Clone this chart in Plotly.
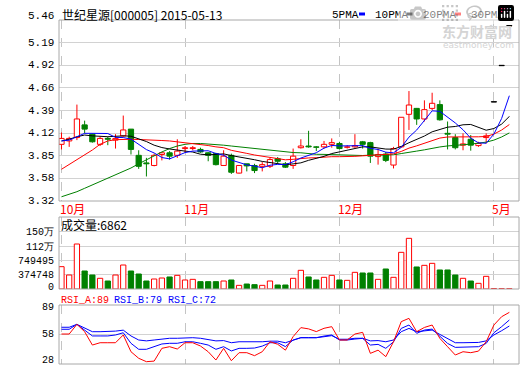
import plotly.graph_objects as go

# ---------------- data ----------------
days = list(range(59))
month_pos = [0, 16, 36, 56]
month_names = ["10月", "11月", "12月", "5月"]

open_p = [3.99, 4.03, 4.07, 4.22, 4.11, 3.99, 4.06, 4.04, 4.09, 4.17,
          3.86, 3.77, 3.74, 3.87, 3.89, 3.86, 3.94, 3.94, 3.93, 3.89,
          3.88, 3.74, 3.86, 3.65, 3.76, 3.74, 3.73, 3.73, 3.82, 3.76,
          3.74, 3.95, 3.97, 3.96, 3.96, 3.99, 4.00, 3.955, 3.96, 4.02,
          4.01, 3.845, 3.875, 3.745, 3.96, 4.345, 4.415, 4.29, 4.415, 4.46,
          4.12, 4.07, 3.98, 4.05, 3.975, 4.07, 4.49, 4.92, 5.39]
high_p = [4.13, 4.08, 4.46, 4.27, 4.12, 4.08, 4.08, 4.11, 4.33, 4.17,
          3.92, 3.83, 3.88, 3.90, 3.91, 4.05, 3.97, 3.97, 3.95, 3.90,
          3.89, 3.92, 3.88, 3.745, 3.76, 3.76, 3.78, 3.83, 3.84, 3.78,
          3.94, 4.05, 4.15, 3.97, 4.03, 4.06, 4.02, 3.98, 4.11, 4.03,
          4.02, 3.94, 3.90, 3.96, 4.31, 4.62, 4.42, 4.51, 4.60, 4.51,
          4.26, 4.11, 4.12, 4.10, 4.02, 4.12, 4.49, 4.92, 5.39]
low_p = [3.93, 3.96, 4.04, 4.12, 4.01, 3.97, 3.98, 3.94, 4.08, 3.87,
         3.70, 3.61, 3.73, 3.80, 3.81, 3.83, 3.89, 3.92, 3.89, 3.79,
         3.74, 3.74, 3.64, 3.645, 3.67, 3.65, 3.67, 3.71, 3.76, 3.71,
         3.70, 3.94, 3.95, 3.91, 3.94, 3.95, 3.93, 3.94, 3.95, 3.94,
         3.77, 3.75, 3.78, 3.705, 3.95, 4.16, 4.22, 4.26, 4.395, 4.27,
         3.93, 3.93, 3.92, 3.915, 3.96, 4.00, 4.49, 4.92, 5.39]
close_p = [4.06, 4.06, 4.29, 4.17, 4.02, 4.06, 4.05, 4.06, 4.16, 3.93,
           3.73, 3.76, 3.86, 3.89, 3.85, 3.91, 3.95, 3.95, 3.90, 3.86,
           3.75, 3.85, 3.66, 3.74, 3.735, 3.68, 3.75, 3.81, 3.79, 3.72,
           3.85, 3.97, 3.96, 3.955, 3.99, 4.01, 3.94, 3.96, 3.975, 3.99,
           3.85, 3.87, 3.80, 3.94, 4.31, 4.455, 4.29, 4.40, 4.475, 4.28,
           4.11, 3.95, 3.995, 3.98, 4.00, 4.09, 4.49, 4.92, 5.39]

ma5 = [4.03, 4.04, 4.08, 4.12, 4.12, 4.12, 4.118, 4.072, 4.07, 4.052,
       3.986, 3.928, 3.888, 3.834, 3.818, 3.854, 3.892, 3.91, 3.912, 3.914,
       3.882, 3.862, 3.804, 3.772, 3.747, 3.733, 3.713, 3.743, 3.753, 3.75,
       3.784, 3.828, 3.858, 3.891, 3.945, 3.977, 3.971, 3.971, 3.975, 3.975,
       3.943, 3.929, 3.897, 3.89, 3.954, 4.075, 4.159, 4.279, 4.386, 4.38,
       4.311, 4.243, 4.162, 4.063, 4.007, 4.003, 4.111, 4.296, 4.565]
ma10 = [4.03, 4.05, 4.08, 4.10, 4.09, 4.085, 4.08, 4.085, 4.09, 4.086,
        4.053, 4.023, 3.98, 3.952, 3.935, 3.92, 3.91, 3.899, 3.873, 3.866,
        3.868, 3.877, 3.857, 3.842, 3.83, 3.808, 3.788, 3.774, 3.763, 3.749,
        3.759, 3.771, 3.801, 3.822, 3.848, 3.881, 3.90, 3.915, 3.933, 3.96,
        3.96, 3.95, 3.934, 3.933, 3.965, 4.009, 4.044, 4.088, 4.138, 4.167,
        4.193, 4.201, 4.221, 4.225, 4.194, 4.157, 4.177, 4.229, 4.32]
ma20 = [3.695, 3.75, 3.805, 3.864, 3.923, 3.99, 4.03, 4.045, 4.05, 4.05,
        4.047, 4.045, 4.04, 4.035, 4.03, 4.02, 4.01, 4.003, 3.99, 3.976,
        3.96, 3.95, 3.919, 3.897, 3.883, 3.864, 3.849, 3.836, 3.818, 3.807,
        3.813, 3.824, 3.829, 3.832, 3.839, 3.844, 3.844, 3.844, 3.848, 3.854,
        3.859, 3.86, 3.867, 3.877, 3.906, 3.945, 3.972, 4.001, 4.036, 4.064,
        4.077, 4.076, 4.077, 4.079, 4.079, 4.083, 4.111, 4.159, 4.224]
ma30 = [3.37, 3.40, 3.43, 3.47, 3.51, 3.55, 3.59, 3.63, 3.67, 3.71,
        3.76, 3.81, 3.86, 3.90, 3.94, 3.97, 3.99, 4.0, 4.0, 3.995,
        3.99, 3.98, 3.97, 3.96, 3.945, 3.935, 3.925, 3.918, 3.91, 3.90,
        3.893, 3.89, 3.879, 3.872, 3.871, 3.869, 3.866, 3.862, 3.856, 3.858,
        3.862, 3.866, 3.864, 3.866, 3.881, 3.899, 3.91, 3.925, 3.945, 3.959,
        3.971, 3.974, 3.985, 3.993, 4.002, 4.016, 4.04, 4.077, 4.125]

volume = [587000, 368000, 1183000, 473000, 368000, 281000, 210000, 368000, 631000, 473000,
          394000, 210000, 263000, 289000, 316000, 359000, 237000, 254000, 193000, 193000,
          193000, 210000, 237000, 96000, 131000, 114000, 96000, 210000, 105000, 105000,
          281000, 491000, 316000, 237000, 307000, 359000, 237000, 228000, 438000, 421000,
          421000, 254000, 526000, 307000, 964000, 1332000, 579000, 622000, 675000, 500000,
          500000, 368000, 281000, 210000, 149000, 333000, 12000, 8000, 6862]

rsi_a = [59, 59, 69, 61.4, 47.6, 50, 50, 50, 58, 40.7,
         33.9, 30.4, 31, 44.2, 45.9, 43.5, 50, 50, 46.6, 40.7,
         32.1, 44.2, 31.4, 39.7, 39.7, 36.6, 40.7, 51, 48.4, 42.3,
         56.3, 65.6, 64.3, 61.5, 64.9, 66.6, 52.8, 52.8, 59, 60.7,
         39, 42.3, 35.6, 51, 71.8, 75.2, 61.4, 65.8, 68.3, 54.5,
         45.9, 37.3, 40.7, 39.7, 41.3, 51, 68.3, 76.9, 81.4]
rsi_b = [63.9, 63.9, 69, 63, 57, 57, 57, 58, 60.3, 49.4,
         43.2, 43.2, 45.9, 48.7, 49.4, 49.4, 51, 51, 49.4, 47.6,
         43.2, 45.9, 41.5, 44.2, 44.2, 44.5, 46.5, 50, 50, 46,
         52.8, 55.2, 55.2, 55.2, 56.9, 58, 52.8, 52.8, 53.8, 54.5,
         47.6, 48.3, 44.2, 51, 64.8, 68.3, 59.7, 63.1, 64.1, 56.2,
         49.3, 45.2, 45.2, 45.2, 45.9, 49.3, 60.3, 66.6, 73.5]
rsi_c = [66, 66, 69, 65, 61.4, 61.4, 61.4, 62, 63, 57,
         52.8, 51.9, 52.8, 53.6, 54.6, 54.6, 55.2, 55.2, 54.6, 53.6,
         51.9, 52.2, 50, 51, 51, 50.3, 51, 51.6, 51.6, 50,
         52.8, 55.2, 55.2, 55.2, 56.2, 57.3, 53.6, 53.6, 54.6, 54.6,
         51.9, 52.2, 51, 52.8, 61.4, 64.8, 61.4, 62.4, 63.1, 58.6,
         54.6, 50, 50, 50, 50.3, 51.9, 58, 62.4, 67.3]

price_ticks = [3.32, 3.5875, 3.855, 4.1225, 4.39, 4.6575, 4.925, 5.1925, 5.46]
price_tick_text = ["3.32", "3.58", "3.85", "4.12", "4.39", "4.66", "4.92", "5.19", "5.46"]
vol_ticks = [0, 374748, 749495, 1124243, 1498990]
vol_tick_text = ["0", "374748", "749495", "112万", "150万"]
rsi_ticks = [28, 58, 89]
rsi_tick_text = ["28", "58", "89"]

title_text = "世纪星源[000005] 2015-05-13"
vol_title = "成交量:6862"
ma_names = ["5PMA", "10PMA", "20PMA", "30PMA"]
rsi_names = ["RSI_A:89", "RSI_B:79", "RSI_C:72"]

# ---------------- styling / geometry ----------------
RED, GREEN, BLUE, BLACK = "#ff0000", "#008000", "#0000ff", "#000000"
GRID, FRAME, VGRID = "#d2d2d2", "#a8a8a8", "#c4c4c4"
MONO = "Liberation Mono"
CJK = "Noto Sans CJK SC"

W, H = 520, 365
ML, MR, MT, MB = 59, 1, 20, 1
PW, PH = W - ML - MR, H - MT - MB


def fx(px):
    return (px - ML) / PW


def fy(py):
    return (H - MB - py) / PH


dom_price = [fy(201), 1.0]
dom_vol = [fy(289), fy(217)]
dom_rsi = [0.0, fy(305)]
XR = [-0.32, 59.25]
R_PRICE = [3.32, 5.46]
R_VOL = [0, 1893000]
R_RSI = [28, 89]
BW = 0.68


def val_to_paper(v, rng, dom):
    return dom[0] + (v - rng[0]) / (rng[1] - rng[0]) * (dom[1] - dom[0])


def idx_to_paper(i):
    return (i - XR[0]) / (XR[1] - XR[0])


# candle colours
c_line, c_fill, v_line, v_fill = [], [], [], []
for o, c in zip(open_p, close_p):
    if c > o:
        c_line.append(RED); c_fill.append("#ffffff")
    elif c < o:
        c_line.append(GREEN); c_fill.append(GREEN)
    else:
        c_line.append(BLACK); c_fill.append(BLACK)
    if c < o:
        v_line.append(GREEN); v_fill.append(GREEN)
    else:
        v_line.append(RED); v_fill.append("#ffffff")

body_base = [min(o, c) for o, c in zip(open_p, close_p)]
body_h = [max(abs(c - o), 0.004) for o, c in zip(open_p, close_p)]

fig = go.Figure()

# wicks (split so they don't cross hollow bodies)
for col in (RED, GREEN, BLACK):
    xs, ys = [], []
    for i, o, h, l, c, lc in zip(days, open_p, high_p, low_p, close_p, c_line):
        if lc != col:
            continue
        top, bot = max(o, c), min(o, c)
        if h > top:
            xs += [i, i, None]; ys += [top, h, None]
        if l < bot:
            xs += [i, i, None]; ys += [l, bot, None]
    if xs:
        fig.add_trace(go.Scatter(x=xs, y=ys, mode="lines", line=dict(color=col, width=1),
                                 xaxis="x", yaxis="y", hoverinfo="skip"))

fig.add_trace(go.Bar(x=days, y=body_h, base=body_base, width=BW,
                     marker=dict(color=c_fill, line=dict(color=c_line, width=1)),
                     xaxis="x", yaxis="y"))

for ma, col in ((ma30, GREEN), (ma20, RED), (ma10, BLACK), (ma5, BLUE)):
    fig.add_trace(go.Scatter(x=days, y=ma, mode="lines", line=dict(color=col, width=1),
                             xaxis="x", yaxis="y"))

# volume
fig.add_trace(go.Bar(x=days, y=volume, width=BW,
                     marker=dict(color=v_fill, line=dict(color=v_line, width=1)),
                     xaxis="x2", yaxis="y2"))

# RSI
for r, col in ((rsi_c, BLUE), (rsi_b, BLUE), (rsi_a, RED)):
    fig.add_trace(go.Scatter(x=days, y=r, mode="lines", line=dict(color=col, width=1),
                             xaxis="x3", yaxis="y3"))

xcommon = dict(range=XR, showgrid=True, gridcolor=VGRID, griddash="dash", gridwidth=1,
               tickvals=month_pos, showticklabels=False, zeroline=False, showline=False,
               ticks="", fixedrange=True, automargin=False)
ycommon = dict(showgrid=True, gridcolor=GRID, gridwidth=1, zeroline=False, showline=False,
               ticks="", showticklabels=False, fixedrange=True, automargin=False)

fig.update_layout(
    width=W, height=H,
    margin=dict(l=ML, r=MR, t=MT, b=MB, pad=0, autoexpand=False),
    paper_bgcolor="white", plot_bgcolor="white",
    showlegend=False, barmode="overlay",
    font=dict(family=CJK, size=12, color="black"),
    xaxis=dict(domain=[0, 1], anchor="y", **xcommon),
    xaxis2=dict(domain=[0, 1], anchor="y2", matches="x", **xcommon),
    xaxis3=dict(domain=[0, 1], anchor="y3", matches="x", **xcommon),
    yaxis=dict(domain=dom_price, anchor="x", range=R_PRICE, tickvals=price_ticks, **ycommon),
    yaxis2=dict(domain=dom_vol, anchor="x2", range=R_VOL, tickvals=vol_ticks, **ycommon),
    yaxis3=dict(domain=dom_rsi, anchor="x3", range=R_RSI, tickvals=rsi_ticks, **ycommon),
)

shapes = []
for d in (dom_price, dom_vol, dom_rsi):
    shapes.append(dict(type="rect", xref="paper", yref="paper", x0=0, x1=1, y0=d[0], y1=d[1],
                       line=dict(color=FRAME, width=1), fillcolor="rgba(0,0,0,0)", layer="above"))

# legend swatches
leg_text_px = [331, 374, 422, 470]
leg_sw_px = [359, 406.5, 455, 503]
for sx, col in zip(leg_sw_px, (BLUE, BLACK, RED, GREEN)):
    shapes.append(dict(type="rect", xref="paper", yref="paper", x0=fx(sx), x1=fx(sx + 6),
                       y0=fy(15.5), y1=fy(12.5), line=dict(width=0), fillcolor=col))
fig.update_layout(shapes=shapes)

ann = []


def label(text, x, y, anchor="left", size=12, family=CJK, color="black", yshift=0):
    ann.append(dict(text=text, xref="paper", yref="paper", x=x, y=y, xanchor=anchor,
                    yanchor="middle", showarrow=False, yshift=yshift,
                    font=dict(family=family, size=size, color=color)))


# watermark first so other text sits above it
label("<b>东方财富网</b>", fx(440), fy(31.5), "left", 14, CJK, "#d4d4d4")
label("eastmoney.com", fx(441), fy(45), "left", 9, "DejaVu Sans", "#d4d4d4")

# y tick labels (placed as text beside the frame)
TX = fx(56)
for v, t in zip(price_ticks, price_tick_text):
    sh = 4 if v == R_PRICE[1] else 0
    label(t, TX, val_to_paper(v, R_PRICE, dom_price), "right", 11, MONO, yshift=sh)
for v, t in zip(vol_ticks, vol_tick_text):
    sh = 2 if v == R_VOL[0] else -1
    label(t, TX, val_to_paper(v, R_VOL, dom_vol), "right", 10, MONO, yshift=sh)
for v, t in zip(rsi_ticks, rsi_tick_text):
    sh = 4 if v == R_RSI[0] else (-2 if v == R_RSI[1] else 0)
    label(t, TX, val_to_paper(v, R_RSI, dom_rsi), "right", 10, MONO, yshift=sh)

label(title_text, fx(60), fy(15))
for t, px in zip(ma_names, leg_text_px):
    label(t, fx(px - 1), fy(14.5), "left", 11, MONO)
for m, t in zip(month_pos, month_names):
    label(t, idx_to_paper(m - 0.45), fy(208), "left", 12, CJK, RED)
label(vol_title, fx(59), fy(225))
for t, px, col in zip(rsi_names, [59, 112, 166], [RED, BLUE, BLUE]):
    label(t, fx(px), fy(300), "left", 10, MONO, col)
fig.update_layout(annotations=ann)

fig.write_html("out.html", post_script="document.body.style.margin='0';")
